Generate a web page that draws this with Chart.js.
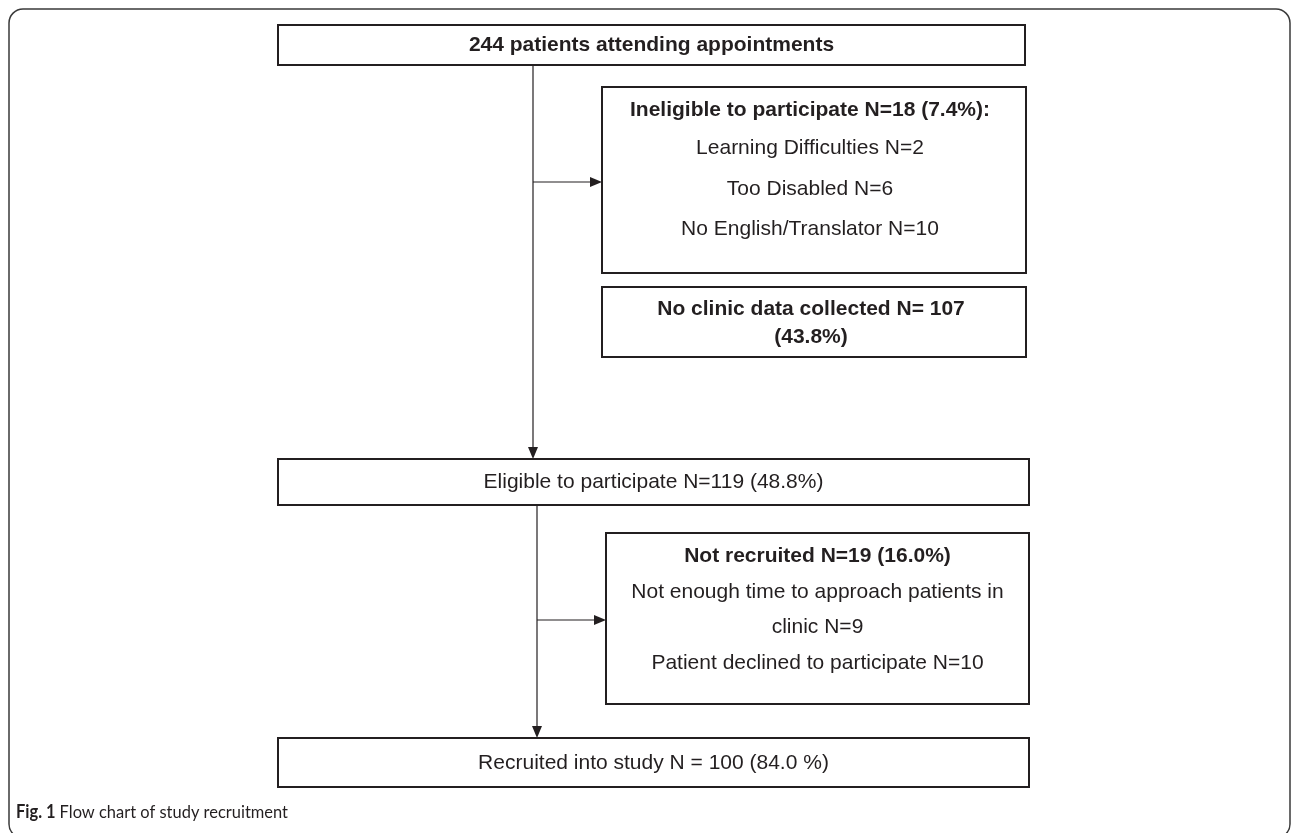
<!DOCTYPE html>
<html lang="en">
<head>
<meta charset="UTF-8">
<title>Flow chart of study recruitment</title>
<style>
  html, body { margin: 0; padding: 0; background: #fff; }
  #wrap { position: relative; width: 1292px; height: 833px; }
</style>
</head>
<body>
<div id="wrap"><canvas id="flow" width="1292" height="833"></canvas></div>

<script src="https://cdn.jsdelivr.net/npm/chart.js"></script>
<script>
// --- texts of the flow chart ---
const mainSteps = ['244 patients attending appointments', 'Eligible to participate N=119 (48.8%)', 'Recruited into study N = 100 (84.0 %)'];
const ineligibleHead = ['Ineligible to participate N=18 (7.4%):'];
const ineligibleReasons = ['Learning Difficulties N=2', 'Too Disabled N=6', 'No English/Translator N=10'];
const noDataHead = ['No clinic data collected N= 107', '(43.8%)'];
const notRecruitedHead = ['Not recruited N=19 (16.0%)'];
const notRecruitedReasons = ['Not enough time to approach patients in', 'clinic N=9', 'Patient declined to participate N=10'];
const captionBold = 'Fig. 1';
const captionText = 'Flow chart of study recruitment';

// --- layout (page units, axes run 0..1292 x 0..833) ---
const W = 1292, H = 833;
function lines(texts, bold, ys) { return texts.map((t, i) => ({ text: t, bold: bold, y: ys[i] })); }

const boxes = [
  { x0: 278, y0: 25, x1: 1025, y1: 65, dx: 0, lines: lines(mainSteps.slice(0, 1), true, [45]) },
  { x0: 602, y0: 87, x1: 1026, y1: 273, dx: -4, lines: lines(ineligibleHead, true, [110]).concat(lines(ineligibleReasons, false, [148, 189, 229])) },
  { x0: 602, y0: 287, x1: 1026, y1: 357, dx: -3, lines: lines(noDataHead, true, [309, 337]) },
  { x0: 278, y0: 459, x1: 1029, y1: 505, dx: 0, lines: lines(mainSteps.slice(1, 2), false, [482]) },
  { x0: 606, y0: 533, x1: 1029, y1: 704, dx: 0, lines: lines(notRecruitedHead, true, [556]).concat(lines(notRecruitedReasons, false, [592, 627, 663])) },
  { x0: 278, y0: 738, x1: 1029, y1: 787, dx: 0, lines: lines(mainSteps.slice(2, 3), false, [763]) }
];

const arrows = [
  { from: [533, 65], to: [533, 459] },
  { from: [533, 182], to: [602, 182] },
  { from: [537, 505], to: [537, 738] },
  { from: [537, 620], to: [606, 620] }
];

const FONT = '"Liberation Sans", Arial, Helvetica, sans-serif';
const CAP_FONT = 'Lato, "Open Sans", sans-serif';
const INK = '#231f20';

const flowPlugin = {
  id: 'flow',
  afterDraw(chart) {
    const { ctx, scales: { x, y } } = chart;
    const px = v => x.getPixelForValue(v);
    const py = v => y.getPixelForValue(v);
    ctx.save();

    // outer rounded frame
    ctx.strokeStyle = '#3a3a3a';
    ctx.lineWidth = 1.5;
    ctx.beginPath();
    ctx.roundRect(px(9), py(9), px(1290) - px(9), py(838) - py(9), 14);
    ctx.stroke();

    // connectors
    ctx.strokeStyle = INK;
    ctx.fillStyle = INK;
    arrows.forEach(a => {
      const x0 = px(a.from[0]), y0 = py(a.from[1]), x1 = px(a.to[0]), y1 = py(a.to[1]);
      const ang = Math.atan2(y1 - y0, x1 - x0);
      const len = 12, half = 5;
      ctx.lineWidth = 1.2;
      ctx.beginPath();
      ctx.moveTo(x0, y0);
      ctx.lineTo(x1 - Math.cos(ang) * len, y1 - Math.sin(ang) * len);
      ctx.stroke();
      ctx.beginPath();
      ctx.moveTo(x1, y1);
      ctx.lineTo(x1 - Math.cos(ang) * len - Math.sin(ang) * half, y1 - Math.sin(ang) * len + Math.cos(ang) * half);
      ctx.lineTo(x1 - Math.cos(ang) * len + Math.sin(ang) * half, y1 - Math.sin(ang) * len - Math.cos(ang) * half);
      ctx.closePath();
      ctx.fill();
    });

    // boxes + text
    boxes.forEach(b => {
      ctx.lineWidth = 2;
      ctx.strokeStyle = INK;
      ctx.strokeRect(px(b.x0), py(b.y0), px(b.x1) - px(b.x0), py(b.y1) - py(b.y0));
      const cx = (px(b.x0) + px(b.x1)) / 2 + b.dx;
      ctx.textAlign = 'center';
      ctx.textBaseline = 'middle';
      b.lines.forEach(l => {
        ctx.font = (l.bold ? 'bold ' : '') + '21px ' + FONT;
        ctx.fillText(l.text, cx, py(l.y));
      });
    });

    // caption, squeezed a little to the width of the original
    ctx.textAlign = 'left';
    ctx.textBaseline = 'middle';
    ctx.font = 'bold 18px ' + CAP_FONT;
    const wb = ctx.measureText(captionBold + ' ').width;
    ctx.font = '18px ' + CAP_FONT;
    const wt = ctx.measureText(captionText).width;
    const sx = Math.min(1, 272 / (wb + wt));
    ctx.translate(px(16), py(812));
    ctx.scale(sx, 1);
    ctx.font = 'bold 18px ' + CAP_FONT;
    ctx.fillText(captionBold, 0, 0);
    ctx.font = '18px ' + CAP_FONT;
    ctx.fillText(captionText, wb, 0);

    ctx.restore();
  }
};

new Chart(document.getElementById('flow'), {
  type: 'scatter',
  data: { datasets: [{ data: [], pointRadius: 0 }] },
  options: {
    responsive: false,
    animation: false,
    layout: { padding: 0 },
    scales: {
      x: { type: 'linear', min: 0, max: W, display: false },
      y: { type: 'linear', min: 0, max: H, reverse: true, display: false }
    },
    plugins: { legend: { display: false }, tooltip: { enabled: false } }
  },
  plugins: [flowPlugin]
});
</script>
</body>
</html>
